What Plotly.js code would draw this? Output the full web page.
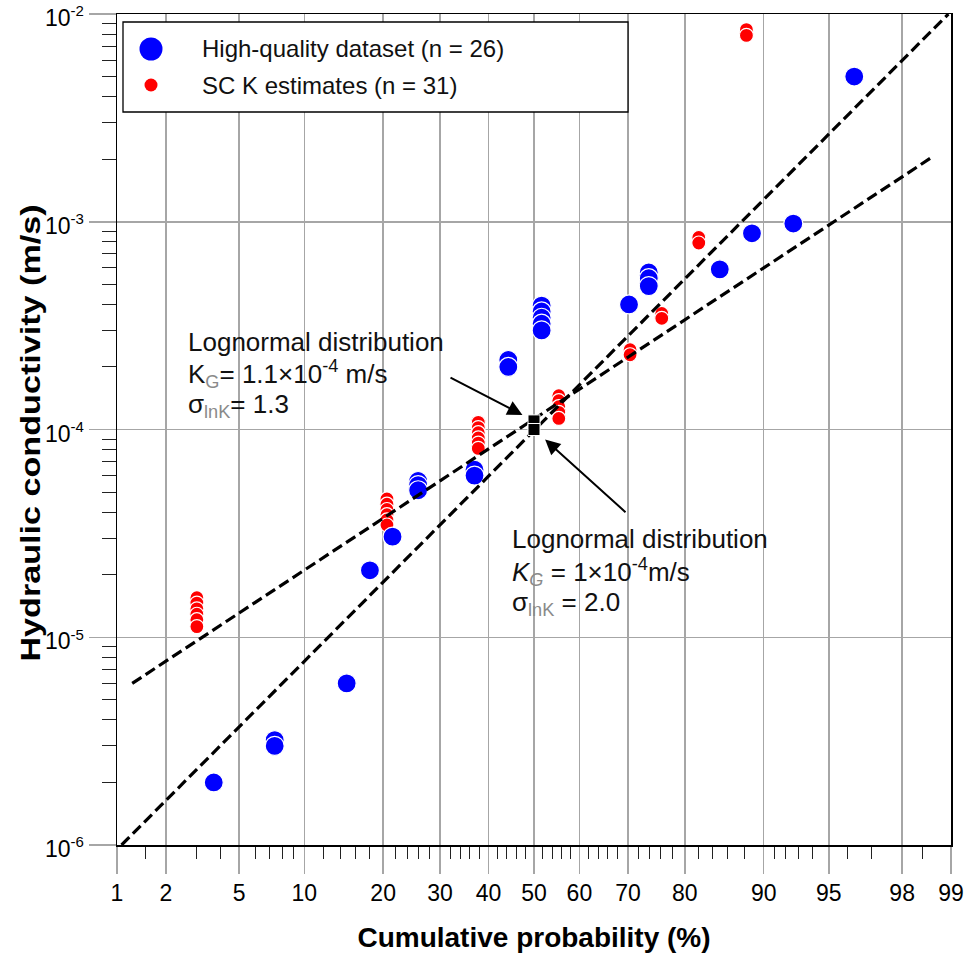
<!DOCTYPE html>
<html>
<head>
<meta charset="utf-8">
<script src="https://cdn.plot.ly/plotly-3.0.1.min.js"></script>
<style>html,body{margin:0;padding:0;background:#fff;}#chart{width:964px;height:958px;}</style>
</head>
<body>
<div id="chart"></div>
<script>
// ---------- data ----------
// High-quality dataset (n = 26): cumulative probability (%) and K (m/s)
const hqProb = [3.7, 7.4, 7.4, 14.8, 18.0, 21.5, 25.9, 25.9, 25.9, 37.0, 37.0, 44.3, 44.3,
                51.7, 51.7, 51.7, 51.7, 51.7, 70.2, 73.9, 73.9, 73.9, 85.0, 88.8, 92.6, 96.3];
const hqK    = [2.0e-6, 3.2e-6, 3.0e-6, 6.0e-6, 2.1e-5, 3.05e-5, 5.65e-5, 5.4e-5, 5.1e-5, 6.4e-5, 6.0e-5, 2.16e-4, 2.0e-4,
                3.95e-4, 3.7e-4, 3.45e-4, 3.23e-4, 3.0e-4, 4.0e-4, 5.7e-4, 5.35e-4, 4.9e-4, 5.9e-4, 8.8e-4, 9.8e-4, 5.0e-3];
// SC K estimates (n = 31)
const scProb = [3.0, 3.0, 3.0, 3.0, 3.0, 3.0,
                20.6, 20.6, 20.6, 20.6, 20.6, 20.6,
                37.8, 37.8, 37.8, 37.8, 37.8, 37.8,
                55.5, 55.5, 55.5, 55.5, 55.5,
                70.4, 70.4, 76.2, 76.2, 82.1, 82.1, 88.2, 88.2];
const scK    = [1.55e-5, 1.46e-5, 1.37e-5, 1.29e-5, 1.215e-5, 1.125e-5,
                4.63e-5, 4.37e-5, 4.12e-5, 3.89e-5, 3.67e-5, 3.47e-5,
                1.083e-4, 1.022e-4, 0.965e-4, 0.911e-4, 0.860e-4, 0.811e-4,
                1.455e-4, 1.376e-4, 1.288e-4, 1.21e-4, 1.13e-4,
                2.42e-4, 2.29e-4, 3.62e-4, 3.43e-4, 8.4e-4, 7.9e-4, 8.41e-3, 7.89e-3];
// fitted lognormal lines (end points)
const fitWideProb = [1.07, 98.96];   // sigma lnK = 2.0, KG = 1e-4
const fitWideK    = [1.0e-6, 1.0e-2];
const fitNarrowProb = [1.25, 98.66]; // sigma lnK = 1.3, KG = 1.1e-4
const fitNarrowK    = [6.0e-6, 2.03e-3];
// geometric means (black squares)
const centerProb = [50, 50];
const centerK    = [1.1e-4, 1.0e-4];
// axis ticks
const xTickProb = [1, 2, 5, 10, 20, 30, 40, 50, 60, 70, 80, 90, 95, 98, 99];
const xTickText = ['1', '2', '5', '10', '20', '30', '40', '50', '60', '70', '80', '90', '95', '98', '99'];
const xMinorProb = [1.5, 3, 4, 6, 7, 8, 9, 12, 14, 16, 18, 22, 24, 26, 28, 32, 34, 36, 38, 42, 44, 46, 48,
                    52, 54, 56, 58, 62, 64, 66, 68, 72, 74, 76, 78, 82, 84, 86, 88, 91, 92, 93, 94, 96, 97, 98.5];
const yTickVals = [1e-6, 1e-5, 1e-4, 1e-3, 1e-2];
const yTickExp  = ['-6', '-5', '-4', '-3', '-2'];
const yMinorMult = [2, 3, 4, 5, 6, 7, 8, 9];

// ---------- normal probability scale ----------
function norminv(p) {
  const a = [-3.969683028665376e+01, 2.209460984245205e+02, -2.759285104469687e+02, 1.383577518672690e+02, -3.066479806614716e+01, 2.506628277459239e+00];
  const b = [-5.447609879822406e+01, 1.615858368580409e+02, -1.556989798598866e+02, 6.680131188771972e+01, -1.328068155288572e+01];
  const c = [-7.784894002430293e-03, -3.223964580411365e-01, -2.400758277161838e+00, -2.549671509763377e+00, 4.374664141464968e+00, 2.938163982698783e+00];
  const d = [7.784695709041462e-03, 3.224671290700398e-01, 2.445134137142996e+00, 3.754408661907416e+00];
  const plow = 0.02425, phigh = 1 - plow;
  let q, r;
  if (p < plow) {
    q = Math.sqrt(-2 * Math.log(p));
    return (((((c[0]*q + c[1])*q + c[2])*q + c[3])*q + c[4])*q + c[5]) / ((((d[0]*q + d[1])*q + d[2])*q + d[3])*q + 1);
  } else if (p <= phigh) {
    q = p - 0.5; r = q*q;
    return (((((a[0]*r + a[1])*r + a[2])*r + a[3])*r + a[4])*r + a[5])*q / (((((b[0]*r + b[1])*r + b[2])*r + b[3])*r + b[4])*r + 1);
  } else {
    q = Math.sqrt(-2 * Math.log(1 - p));
    return -(((((c[0]*q + c[1])*q + c[2])*q + c[3])*q + c[4])*q + c[5]) / ((((d[0]*q + d[1])*q + d[2])*q + d[3])*q + 1);
  }
}
const Z = pct => norminv(pct / 100);
const zs = arr => arr.map(Z);

const yMinorVals = [];
[-6, -5, -4, -3].forEach(e => yMinorMult.forEach(m => yMinorVals.push(m * Math.pow(10, e))));
const yTickText = yTickExp.map(e => '10<sup><span style="font-size:15px">' + e + '</span></sup>');

// plot-area helpers (paper coordinates from pixel positions of the 964x958 figure)
const L = 117, R = 951, T = 14, B = 845;
const px = x => (x - L) / (R - L);
const py = y => 1 - (y - T) / (B - T);

const FONT = 'Arial, "Liberation Sans", sans-serif';
const GRID = '#a6a6a6';

const traces = [
  { type: 'scatter', mode: 'markers', name: 'SC K estimates (n = 31)',
    x: zs(scProb), y: scK,
    marker: { color: '#ff0000', size: 14, line: { color: '#ffffff', width: 1.2 } } },
  { type: 'scatter', mode: 'markers', name: 'High-quality dataset (n = 26)',
    x: zs(hqProb), y: hqK,
    marker: { color: '#0000ff', size: 19, line: { color: '#ffffff', width: 1.2 } } },
  { type: 'scatter', mode: 'lines', name: 'Lognormal (σ = 2.0)',
    x: zs(fitWideProb), y: fitWideK,
    line: { color: '#000000', width: 3.2, dash: '11px,5px' } },
  { type: 'scatter', mode: 'lines', name: 'Lognormal (σ = 1.3)',
    x: zs(fitNarrowProb), y: fitNarrowK,
    line: { color: '#000000', width: 3.2, dash: '11px,5px' } },
  { type: 'scatter', mode: 'markers', name: 'KG',
    x: zs(centerProb), y: centerK,
    marker: { symbol: 'square', color: '#000000', size: 12, line: { color: '#ffffff', width: 1 } } }
];

const sub = t => '<sub><span style="color:#8a8a8a">' + t + '</span></sub>';
const textFont = { family: FONT, size: 26, color: '#111111' };
function label(x, y, text) {
  return { xref: 'paper', yref: 'paper', x: px(x), y: py(y), xanchor: 'left', yanchor: 'middle',
           text: text, showarrow: false, font: textFont };
}

const annotations = [
  label(186, 342, 'Lognormal distribution'),
  label(186, 374, 'K' + sub('G') + '= 1.1×10<sup>-4</sup> m/s'),
  label(186, 405, 'σ' + sub('lnK') + '= 1.3'),
  label(510, 539, 'Lognormal distribution'),
  label(510, 572, '<i>K</i>' + '<sub><span style="color:#8a8a8a"><i>G</i></span></sub>' + ' = 1×10<sup>-4</sup>m/s'),
  label(510, 603, 'σ' + sub('lnK') + ' = 2.0'),
  // arrows pointing at the geometric-mean squares
  { xref: 'x', yref: 'y', x: Z(centerProb[0]), y: Math.log10(centerK[0]), text: '', showarrow: true,
    ax: -85, ay: -44, arrowhead: 2, arrowsize: 1.5, arrowwidth: 2, arrowcolor: '#000', standoff: 13 },
  { xref: 'x', yref: 'y', x: Z(centerProb[1]), y: Math.log10(centerK[1]), text: '', showarrow: true,
    ax: 93, ay: 84, arrowhead: 2, arrowsize: 1.5, arrowwidth: 2, arrowcolor: '#000', standoff: 15 },
  // legend texts
  { xref: 'paper', yref: 'paper', x: px(200), y: py(49), xanchor: 'left', yanchor: 'middle', showarrow: false,
    text: traces[1].name, font: { family: FONT, size: 24, color: '#111' } },
  { xref: 'paper', yref: 'paper', x: px(200), y: py(85), xanchor: 'left', yanchor: 'middle', showarrow: false,
    text: traces[0].name, font: { family: FONT, size: 24, color: '#111' } }
];

const shapes = [
  { type: 'rect', xref: 'paper', yref: 'paper', x0: px(123), x1: px(628), y0: py(112), y1: py(22),
    fillcolor: '#ffffff', line: { color: '#000', width: 1.3 }, layer: 'above' },
  { type: 'circle', xref: 'paper', yref: 'paper', xsizemode: 'pixel', ysizemode: 'pixel',
    xanchor: px(151), yanchor: py(49), x0: -11.5, x1: 11.5, y0: -11.5, y1: 11.5,
    fillcolor: '#0000ff', line: { width: 0 }, layer: 'above' },
  { type: 'circle', xref: 'paper', yref: 'paper', xsizemode: 'pixel', ysizemode: 'pixel',
    xanchor: px(151), yanchor: py(85), x0: -6.5, x1: 6.5, y0: -6.5, y1: 6.5,
    fillcolor: '#ff0000', line: { width: 0 }, layer: 'above' }
];

const layout = {
  width: 964, height: 958,
  margin: { l: L, r: 964 - R, t: T, b: 958 - B, pad: 0 },
  paper_bgcolor: '#ffffff', plot_bgcolor: '#ffffff',
  showlegend: false,
  font: { family: FONT, color: '#000' },
  xaxis: {
    type: 'linear', range: [Z(1), Z(99)], zeroline: false,
    tickmode: 'array', tickvals: zs(xTickProb), ticktext: xTickText,
    tickfont: { family: FONT, size: 23, color: '#000' },
    ticks: 'outside', ticklen: 27, tickwidth: 1.5, tickcolor: GRID, ticklabelstandoff: 0,
    ticklabeloverflow: 'allow',
    showgrid: true, gridcolor: GRID, gridwidth: 1.5,
    showline: true, linecolor: '#000', linewidth: 1.5, mirror: true,
    minor: { tickmode: 'array', tickvals: zs(xMinorProb), ticks: 'outside', ticklen: 12, tickwidth: 1, tickcolor: '#222', showgrid: false },
    title: { text: '<b>Cumulative probability (%)</b>', font: { family: FONT, size: 28, color: '#000' }, standoff: 22 }
  },
  yaxis: {
    type: 'log', range: [-6.00001, -1.99999], zeroline: false,
    tickmode: 'array', tickvals: yTickVals, ticktext: yTickText,
    tickfont: { family: FONT, size: 23, color: '#000' },
    ticks: 'outside', ticklen: 27, tickwidth: 1.5, tickcolor: GRID,
    ticklabeloverflow: 'allow', ticklabelshift: 4,
    showgrid: true, gridcolor: GRID, gridwidth: 1.5,
    showline: true, linecolor: '#000', linewidth: 1.5, mirror: true,
    minor: { tickmode: 'array', tickvals: yMinorVals, ticks: 'outside', ticklen: 14, tickwidth: 1, tickcolor: '#222', showgrid: false },
    title: { text: '<b>Hydraulic conductivity (m/s)</b>', font: { family: FONT, size: 28, color: '#000' }, standoff: 0 }
  },
  annotations: annotations,
  shapes: shapes
};

Plotly.newPlot('chart', traces, layout, { displayModeBar: false, staticPlot: true }).then(gd => {
  // the reference's vertical axis title is drawn stretched along its length
  const g = gd.querySelector('.g-ytitle');
  if (g && g.getBBox) {
    const bb = g.getBBox();
    const cx = bb.x + bb.width / 2, cy = bb.y + bb.height / 2;
    g.setAttribute('transform',
      'translate(' + 31 + ',' + 433 + ') scale(1,1.22) translate(' + (-cx) + ',' + (-cy) + ')');
  }
});
</script>
</body>
</html>
